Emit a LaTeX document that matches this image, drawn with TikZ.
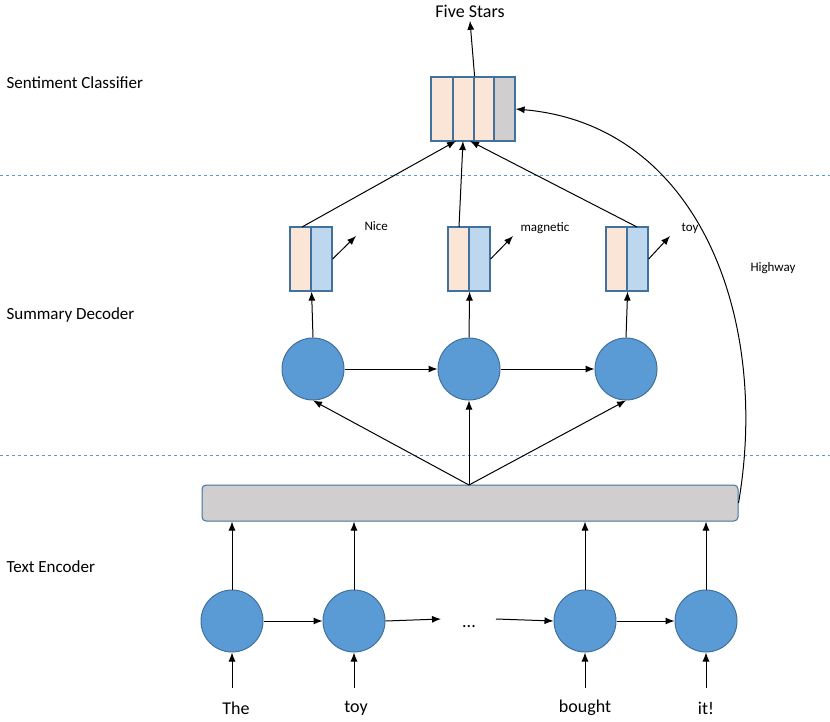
\documentclass[tikz,border=0pt]{standalone}
\usepackage{fontspec}
\setmainfont{Carlito}
\usetikzlibrary{arrows.meta}
\definecolor{cfill}{HTML}{5B9BD5}
\definecolor{cline}{HTML}{41719C}
\definecolor{peach}{HTML}{FBE5D6}
\definecolor{lblue}{HTML}{BDD7EE}
\definecolor{gbar}{HTML}{D0CECE}
\definecolor{dashcol}{HTML}{5B9BD5}
\tikzset{
 circ/.style={circle,draw=cline,fill=cfill,line width=1pt,minimum size=62pt,inner sep=0pt},
 cell/.style={draw=cline,line width=1.2pt,minimum width=21pt,minimum height=64pt,inner sep=0pt},
 arr/.style={-{Latex[length=9pt,width=7pt]},line width=1pt},
 lab/.style={font=\fontsize{17}{17}\selectfont,anchor=west},
 word/.style={font=\fontsize{18}{18}\selectfont},
 small/.style={font=\fontsize{13}{13}\selectfont}
}
\begin{document}
\begin{tikzpicture}[x=1pt,y=-1pt]
\useasboundingbox (0,0) rectangle (830,722);
\draw[dashcol,dashed,line width=0.8pt] (0,175) -- (830,175);
\draw[dashcol,dashed,line width=0.8pt] (0,455) -- (830,455);
\node[lab] (l1) at (3,83) {Sentiment Classifier};
\node[lab] (l2) at (3,315) {Summary Decoder};
\node[lab] (l3) at (3,567) {Text Encoder};
% top vector
\node[cell,fill=peach,minimum width=22pt] (t1) at (442,109) {};
\node[cell,fill=peach] (t2) at (463.5,109) {};
\node[cell,fill=peach,minimum width=20pt] (t3) at (484,109) {};
\node[cell,fill=gbar] (t4) at (504.5,109) {};
\node[word] (five) at (470,11) {Five Stars};
\draw[arr] (t2.north east) -- (five.south);
% decoder vectors
\foreach \n/\x in {a/300.5,b/458.5,c/616.5}{
 \node[cell,fill=peach] (\n l) at (\x,259) {};
 \node[cell,fill=lblue] (\n r) at (\x+21,259) {};
}
\coordinate (o1) at (356,236); \coordinate (o2) at (513,236); \coordinate (o3) at (670,236);
\draw[arr] (ar.east) -- (o1); \draw[arr] (br.east) -- (o2); \draw[arr] (cr.east) -- (o3);
\node[small,anchor=west] (w1) at (361,226) {Nice};
\node[small,anchor=west] (w2) at (517,228) {magnetic};
\node[small,anchor=west] (w3) at (678,228) {toy};
\draw[arr] (302,227) -- (456,141);
\draw[arr] (459,227) -- (463,141);
\draw[arr] (637,227) -- (470,141);
% decoder circles
\node[circ] (d1) at (313,369) {};
\node[circ] (d2) at (469,369) {};
\node[circ] (d3) at (626,369) {};
\draw[arr] (d1) -- (d2); \draw[arr] (d2) -- (d3);
\draw[arr] (d1.north) -- (al.south east);
\draw[arr] (d2.north) -- (bl.south east);
\draw[arr] (d3.north) -- (cl.south east);
% bar
\node[draw=cline,fill=gbar,line width=1pt,rounded corners=4pt,minimum width=536pt,minimum height=36pt,inner sep=0pt] (bar) at (470,503) {};
\coordinate (bt) at (469,485);
\draw[arr] (bt) -- (d1.south);
\draw[arr] (bt) -- (d2.south);
\draw[arr] (bt) -- (d3.south);
% highway
\draw[arr] (bar.east) .. controls (770,320) and (700,125) .. (t4.east);
\node[small,anchor=west] (hw) at (747,268) {Highway};
% encoder
\node[circ] (e1) at (232,621) {};
\node[circ] (e2) at (354,621) {};
\node[circ] (e3) at (585,621) {};
\node[circ] (e4) at (706,621) {};
\node[word] (dots) at (469,627) {...};
\draw[arr] (e1) -- (e2);
\draw[arr] (e2.east) -- (441,619);
\draw[arr] (496,619) -- (e3.west);
\draw[arr] (e3) -- (e4);
\foreach \e in {e1,e2,e3,e4}{ \draw[arr] (\e.north) -- (\e.north |- bar.south); }
\node[word] (x1) at (236,708) {The};
\node[word] (x2) at (356,708) {toy};
\node[word] (x3) at (585,708) {bought};
\node[word] (x4) at (706,708) {it!};
\foreach \e in {e1,e2,e3,e4}{ \draw[arr] (\e.south |- 0,688) -- (\e.south); }
\end{tikzpicture}
\end{document}
